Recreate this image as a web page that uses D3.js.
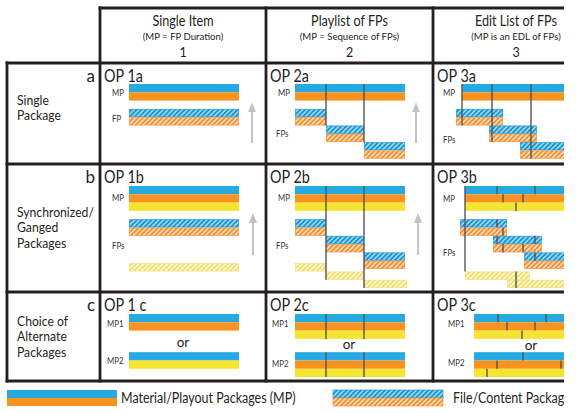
<!DOCTYPE html>
<html><head><meta charset="utf-8">
<script src="https://cdn.jsdelivr.net/npm/d3@7"></script>
<style>body{margin:0;background:#fff}svg{display:block;font-family:Lato,"Open Sans",sans-serif}</style>
</head><body><svg id="chart" width="577" height="413"></svg>
<script>
// ---------------- data ----------------
const colTitles = ["Single Item", "Playlist of FPs", "Edit List of FPs"];
const colSubtitles = ["(MP = FP Duration)", "(MP = Sequence of FPs)", "(MP is an EDL of FPs)"];
const colNumbers = ["1", "2", "3"];
const rowLetters = ["a", "b", "c"];
const rowNames = [["Single", "Package"], ["Synchronized/", "Ganged", "Packages"], ["Choice of", "Alternate", "Packages"]];
const cellTitles = {"1a":"OP 1a","2a":"OP 2a","3a":"OP 3a","1b":"OP 1b","2b":"OP 2b","3b":"OP 3b","1c":"OP 1 c","2c":"OP 2c","3c":"OP 3c"};

// solid Material/Playout package stripes: [cell, lane, start, end, colour]
const solidBars = [
  ["1a",0,0,110,"blue"],["1a",1,0,110,"orange"],
  ["2a",0,0,110,"blue"],["2a",1,0,110,"orange"],
  ["3a",0,0,140,"blue"],["3a",1,0,140,"orange"],
  ["1b",0,0,110,"blue"],["1b",1,0,110,"orange"],["1b",2,0,110,"yellow"],
  ["2b",0,0,110,"blue"],["2b",1,0,110,"orange"],["2b",2,0,110,"yellow"],
  ["3b",0,3,140,"blue"],["3b",1,3,140,"orange"],["3b",2,3,140,"yellow"],
  ["1c",0,0,110,"blue"],["1c",1,0,110,"orange"],["1c",4.6,0,110,"blue"],["1c",5.6,0,110,"yellow"],
  ["2c",0,0,110,"blue"],["2c",1,0,110,"orange"],["2c",2,0,110,"yellow"],
  ["2c",4.6,0,110,"blue"],["2c",5.6,0,110,"orange"],["2c",6.6,0,110,"yellow"],
  ["3c",0,12,140,"blue"],["3c",1,12,140,"orange"],["3c",2,12,140,"yellow"],
  ["3c",4.6,12,140,"blue"],["3c",5.6,12,140,"orange"],["3c",6.6,12,140,"yellow"]
];
// hatched File/Content package stripes: [cell, lane, start, end, colour]
const hatchedBars = [
  ["1a",3,0,110,"blue"],["1a",4,0,110,"orange"],
  ["2a",3,0,31,"blue"],["2a",4,0,31,"orange"],["2a",5,31,69,"blue"],["2a",6,31,69,"orange"],["2a",7,69,110,"blue"],["2a",8,69,110,"orange"],
  ["3a",3,-6,41,"blue"],["3a",4,-6,41,"orange"],["3a",5,27,75,"blue"],["3a",6,27,75,"orange"],["3a",7,58,106,"blue"],["3a",8,58,106,"orange"],
  ["1b",4,0,110,"blue"],["1b",5,0,110,"orange"],["1b",9.3,0,110,"yellow"],
  ["2b",4,0,31,"blue"],["2b",5,0,31,"orange"],["2b",6,31,69,"blue"],["2b",7,31,69,"orange"],["2b",8,69,110,"blue"],["2b",9,69,110,"orange"],
  ["2b",9.3,0,31,"yellow"],["2b",10.3,31,69,"yellow"],["2b",11.3,69,112,"yellow"],
  ["3b",4,-2,45,"blue"],["3b",5,-2,45,"orange"],["3b",6,31,80,"blue"],["3b",7,31,80,"orange"],["3b",8,62,140,"blue"],["3b",9,62,140,"orange"],
  ["3b",10.3,3,68,"yellow"],["3b",11.3,45,140,"yellow"]
];
// connector / edit lines: [cell, position, laneFrom, laneTo]
const editLines = [
  ["2a",31,0,5],["2a",69,0,7],
  ["3a",0,0,5],["3a",30,0,7],["3a",69,0,9],
  ["2b",31,0,11.3],["2b",69,0,12.3],
  ["3b",3,0,10.3],
  ["3b",35,0,1],["3b",73,0,1],["3b",41,1,2],["3b",61,1,2],["3b",54,2,3],
  ["3b",35,4,5],["3b",41,5,6],["3b",35,6,7],["3b",73,6,7],["3b",41,7,8],["3b",61,7,8],["3b",73,8,9],["3b",54,10.3,12.3],
  ["2c",31,0,3],["2c",69,0,3],["2c",31,4.6,7.6],["2c",69,4.6,7.6],
  ["3c",36,0,1],["3c",84,0,1],["3c",45,1,2],["3c",73,1,2],["3c",60,2,3],
  ["3c",61,4.6,5.6],["3c",35,5.6,6.6],["3c",99,5.6,6.6],["3c",25,6.6,7.6]
];
// grey arrows: [cell, position, laneFrom, laneTo]
const arrows = [["1a",123,7.1,2.2],["2a",121,7.1,2.2],["1b",124,8.3,3.25],["2b",123,8.3,3.25]];
// small labels: [cell, text, position, lane]
const laneLabels = [
  ["1a","MP",-17,1.1],["1a","FP",-17,4.2],
  ["2a","MP",-17,1.1],["2a","FPs",-19,6.0],
  ["3a","MP",-19,1.1],["3a","FPs",-19,6.7],
  ["1b","MP",-17,1.45],["1b","FPs",-17,7.2],
  ["2b","MP",-17,1.45],["2b","FPs",-19,7.2],
  ["3b","MP",-19,1.55],["3b","FPs",-19,8.1],
  ["1c","MP1",-22,1.2],["1c","MP2",-22,5.7],
  ["2c","MP1",-23,1.2],["2c","MP2",-23,6.0],
  ["3c","MP1",-14,1.2],["3c","MP2",-14,5.9]
];
const orLabels = [["1c",54,3.4],["2c",54,3.7],["3c",69,3.8]];
const legendLabels = ["Material/Playout Packages (MP)", "File/Content Packages (FP)"];

// ---------------- layout ----------------
const svg = d3.select("#chart");
const ink = "#231f20";
const solid = {blue:"#27aae1", orange:"#f7931e", yellow:"#f5e530"};
const hatch = {blue:["#93d5f1","#1b94cf"], orange:["#fcd9b6","#f28f2e"], yellow:["#fcf7cd","#efdf72"]};
const colX = [100, 266, 433, 599];
const rowY = [63, 164, 292, 381];
const rowBase = [21, 22, 22];
const laneH = 8.3;
const clipW = 564;
const SQ = 0.87;

function squeeze(sel, k) {
  sel.each(function(){
    const w = this.getComputedTextLength();
    d3.select(this).attr("textLength", w*k).attr("lengthAdjust","spacingAndGlyphs");
  });
  return sel;
}

const defs = svg.append("defs");
defs.append("clipPath").attr("id","clip").append("rect").attr("x",0).attr("y",0).attr("width",clipW).attr("height",413);
Object.entries(hatch).forEach(([k,[bg,fg]]) => {
  const p = defs.append("pattern").attr("id","h-"+k).attr("patternUnits","userSpaceOnUse")
    .attr("width",3.4).attr("height",3.4).attr("patternTransform","rotate(45)");
  p.append("rect").attr("width",3.4).attr("height",3.4).attr("fill",bg);
  p.append("rect").attr("width",1.7).attr("height",3.4).attr("fill",fg);
});
const arrowM = defs.append("marker").attr("id","arrow").attr("viewBox","0 0 10 10").attr("refX",5).attr("refY",5)
  .attr("markerWidth",5).attr("markerHeight",6).attr("orient","auto").attr("markerUnits","strokeWidth");
arrowM.append("path").attr("d","M0,1 L10,5 L0,9 Z").attr("fill","#c3c3c3");

const g = svg.append("g").attr("clip-path","url(#clip)");

function cellScales(cell) {
  const c = +cell[0] - 1, r = "abc".indexOf(cell[1]);
  const x = d3.scaleLinear().domain([0,110]).range([colX[c]+29, colX[c]+139]);
  const y = d3.scaleLinear().domain([0,1]).range([rowY[r]+rowBase[r], rowY[r]+rowBase[r]+laneH]);
  return {x, y, c, r};
}

// bars
solidBars.forEach(([cell,lane,s,e,col]) => {
  const {x,y} = cellScales(cell);
  g.append("rect").attr("x",x(s)).attr("y",y(lane)).attr("width",x(e)-x(s)).attr("height",y(lane+1)-y(lane)).attr("fill",solid[col]);
});
hatchedBars.forEach(([cell,lane,s,e,col]) => {
  const {x,y} = cellScales(cell);
  g.append("rect").attr("x",x(s)+0.4).attr("y",y(lane)+0.4).attr("width",x(e)-x(s)-0.8).attr("height",y(lane+1)-y(lane)-0.8)
    .attr("fill","url(#h-"+col+")").attr("stroke",hatch[col][1]).attr("stroke-width",0.8).attr("stroke-opacity",0.8);
});
editLines.forEach(([cell,p,l0,l1]) => {
  const {x,y} = cellScales(cell);
  g.append("line").attr("x1",x(p)).attr("x2",x(p)).attr("y1",y(l0)).attr("y2",y(l1)).attr("stroke","#555").attr("stroke-width",1.4);
});
arrows.forEach(([cell,p,l0,l1]) => {
  const {x,y} = cellScales(cell);
  g.append("line").attr("x1",x(p)).attr("x2",x(p)).attr("y1",y(l0)).attr("y2",y(l1)+5).attr("stroke","#c3c3c3").attr("stroke-width",2).attr("marker-end","url(#arrow)");
});
laneLabels.forEach(([cell,t,p,lane]) => {
  const {x,y} = cellScales(cell);
  squeeze(g.append("text").attr("x",x(p)).attr("y",y(lane)).attr("dy","0.35em").attr("font-size",8.5).attr("fill","#333").text(t), 0.92);
});
orLabels.forEach(([cell,p,lane]) => {
  const {x,y} = cellScales(cell);
  g.append("text").attr("x",x(p)).attr("y",y(lane)).attr("dy","0.33em").attr("text-anchor","middle").attr("font-size",13.5).attr("fill",ink).text("or");
});
// cell titles
Object.entries(cellTitles).forEach(([cell,t]) => {
  const {c,r} = cellScales(cell);
  squeeze(g.append("text").attr("x",colX[c]+4).attr("y",rowY[r]+13).attr("dy","0.36em").attr("font-size",16.5).attr("fill",ink).text(t), SQ);
});
// headers
colTitles.forEach((t,i) => {
  const cx = (colX[i]+colX[i+1])/2;
  squeeze(g.append("text").attr("x",cx).attr("y",21).attr("dy","0.35em").attr("text-anchor","middle").attr("font-size",14.5).attr("fill",ink).text(t), SQ);
  g.append("text").attr("x",cx).attr("y",37).attr("dy","0.35em").attr("text-anchor","middle").attr("font-size",9.6).attr("fill",ink).text(colSubtitles[i]);
  g.append("text").attr("x",cx).attr("y",53).attr("dy","0.35em").attr("text-anchor","middle").attr("font-size",12.5).attr("fill",ink).text(colNumbers[i]);
});
// row labels
const nameStart = [37, 48, 29];
rowLetters.forEach((l,i) => {
  g.append("text").attr("x",95).attr("y",rowY[i]+13).attr("dy","0.36em").attr("text-anchor","end").attr("font-size",17).attr("fill",ink).text(l);
  rowNames[i].forEach((n,j) => {
    squeeze(g.append("text").attr("x",17).attr("y",rowY[i]+nameStart[i]+j*15.5).attr("dy","0.35em").attr("font-size",14).attr("fill",ink).text(n), SQ);
  });
});
// grid
const grid = g.append("g").attr("stroke",ink).attr("stroke-width",2.8).attr("stroke-linecap","square");
grid.append("line").attr("x1",colX[0]).attr("x2",colX[3]).attr("y1",8).attr("y2",8);
rowY.forEach(yy => grid.append("line").attr("x1",7).attr("x2",colX[3]).attr("y1",yy).attr("y2",yy));
grid.append("line").attr("x1",7).attr("x2",7).attr("y1",rowY[0]).attr("y2",rowY[3]);
colX.forEach(xx => grid.append("line").attr("x1",xx).attr("x2",xx).attr("y1",8).attr("y2",rowY[3]));

// legend
const legX = [7, 333];
legendLabels.forEach((t,i) => {
  const lx = d3.scaleLinear().domain([0,110]).range([legX[i], legX[i]+110]);
  const ly = d3.scaleLinear().domain([0,1]).range([390, 398]);
  ["blue","orange"].forEach((col,k) => {
    const r = g.append("rect").attr("x",lx(0)).attr("y",ly(k)).attr("width",lx(110)-lx(0)).attr("height",ly(k+1)-ly(k));
    if (i===0) r.attr("fill",solid[col]);
    else r.attr("fill","url(#h-"+col+")").attr("stroke",hatch[col][1]).attr("stroke-width",0.8).attr("stroke-opacity",0.8);
  });
  squeeze(g.append("text").attr("x",lx(110)+(i===0?4:10)).attr("y",ly(1)).attr("dy","0.35em").attr("font-size",14.5).attr("fill",ink).text(t), 0.86);
});
</script></body></html>
